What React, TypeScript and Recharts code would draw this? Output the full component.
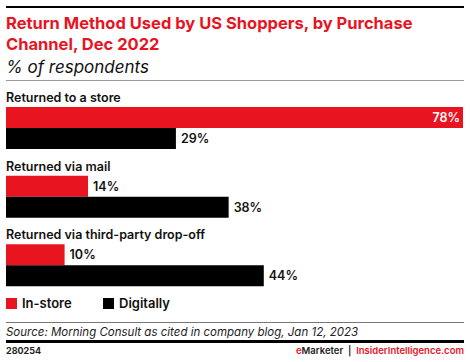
import React from 'react';
import { BarChart, Bar, XAxis, YAxis, Legend, LabelList, Customized } from 'recharts';

const categories = ['Returned to a store', 'Returned via mail', 'Returned via third-party drop-off'];
const inStore = [78, 14, 10];
const digitally = [29, 38, 44];
const seriesNames = ['In-store', 'Digitally'];

const RED = '#e8141f';
const FONT = 'Inter, "Noto Sans", sans-serif';

const data = categories.map((name, i) => ({ name, inStore: inStore[i], digitally: digitally[i] }));

// category name sits just above the red bar of each group
const renderCategory = (props: any) => {
  const { y, value } = props;
  return (
    <text x={6} y={y - 5} fontSize={12.5} fontWeight={600} fill="#111" fontFamily={FONT}>
      {value}
    </text>
  );
};

const renderValue = (props: any) => {
  const { x, y, width, height, value } = props;
  const inside = width > 400;
  return (
    <text
      x={inside ? x + width - 3 : x + width + 5}
      y={y + height / 2}
      dominantBaseline="central"
      textAnchor={inside ? 'end' : 'start'}
      fontSize={12.5}
      fontWeight={600}
      fill={inside ? '#fff' : '#111'}
      fontFamily={FONT}
    >
      {value}%
    </text>
  );
};

const renderLegend = (props: any) => {
  const items = [...props.payload].sort((a: any, b: any) => seriesNames.indexOf(a.value) - seriesNames.indexOf(b.value));
  return (
    <div style={{ display: 'flex', fontFamily: FONT, fontSize: 13, fontWeight: 600, color: '#111' }}>
      {items.map((p: any, i: number) => (
        <div key={i} style={{ display: 'flex', alignItems: 'center', width: 97 }}>
          <span style={{ width: 11, height: 11, background: p.color, marginRight: 5, display: 'inline-block' }} />
          {p.value}
        </div>
      ))}
    </div>
  );
};

// header / footer rules, drawn inside the chart svg
const Rules = () => (
  <g>
    <line x1={6} x2={464} y1={7} y2={7} stroke="#000" strokeWidth={2} />
    <line x1={6} x2={464} y1={80.5} y2={80.5} stroke="#999" strokeWidth={1} />
    <line x1={6} x2={464} y1={322.5} y2={322.5} stroke="#777" strokeWidth={1} />
    <line x1={6} x2={464} y1={341.5} y2={341.5} stroke="#000" strokeWidth={3} />
  </g>
);

export default function App() {
  return (
    <div style={{ position: 'absolute', left: 0, top: 0, width: 470, height: 362, background: '#fff', fontFamily: FONT }}>
      <div style={{ position: 'absolute', left: 0, top: 0 }}>
        <BarChart
          width={470}
          height={362}
          data={data}
          layout="vertical"
          margin={{ top: 94, right: 7, bottom: 62, left: 6 }}
          barCategoryGap={13}
          barGap={0}
        >
          <XAxis type="number" domain={[0, 78]} hide />
          <YAxis type="category" dataKey="name" hide />
          <Legend
            layout="horizontal"
            verticalAlign="middle"
            align="center"
            content={renderLegend}
            wrapperStyle={{ top: 295, left: 6, width: 'auto' }}
          />
          <Customized component={Rules} />
          <Bar dataKey="inStore" name={seriesNames[0]} fill={RED} isAnimationActive={false}>
            <LabelList dataKey="name" content={renderCategory} />
            <LabelList dataKey="inStore" content={renderValue} />
          </Bar>
          <Bar dataKey="digitally" name={seriesNames[1]} fill="#000" isAnimationActive={false}>
            <LabelList dataKey="digitally" content={renderValue} />
          </Bar>
        </BarChart>
      </div>

      <div style={{ position: 'absolute', zIndex: 2, left: 6, top: 13, width: 462, fontSize: 16.5, fontWeight: 700, lineHeight: '21.3px', color: RED }}>
        Return Method Used by US Shoppers, by Purchase Channel, Dec 2022
      </div>
      <div style={{ position: 'absolute', zIndex: 2, left: 6, top: 57, fontSize: 17, fontStyle: 'italic', fontWeight: 400, color: '#111' }}>
        % of respondents
      </div>
      <div style={{ position: 'absolute', zIndex: 2, left: 6, top: 325, fontSize: 11.5, fontStyle: 'italic', fontWeight: 400, color: '#222' }}>
        Source: Morning Consult as cited in company blog, Jan 12, 2023
      </div>
      <div style={{ position: 'absolute', zIndex: 2, left: 6, top: 345, fontSize: 9, fontWeight: 700, color: '#222' }}>280254</div>
      <div style={{ position: 'absolute', zIndex: 2, right: 6, top: 345, fontSize: 9.5, fontWeight: 600, color: '#222' }}>
        <span style={{ color: RED }}>e</span>Marketer&nbsp;&nbsp;|&nbsp;&nbsp;<span style={{ color: RED }}>InsiderIntelligence.com</span>
      </div>
    </div>
  );
}
